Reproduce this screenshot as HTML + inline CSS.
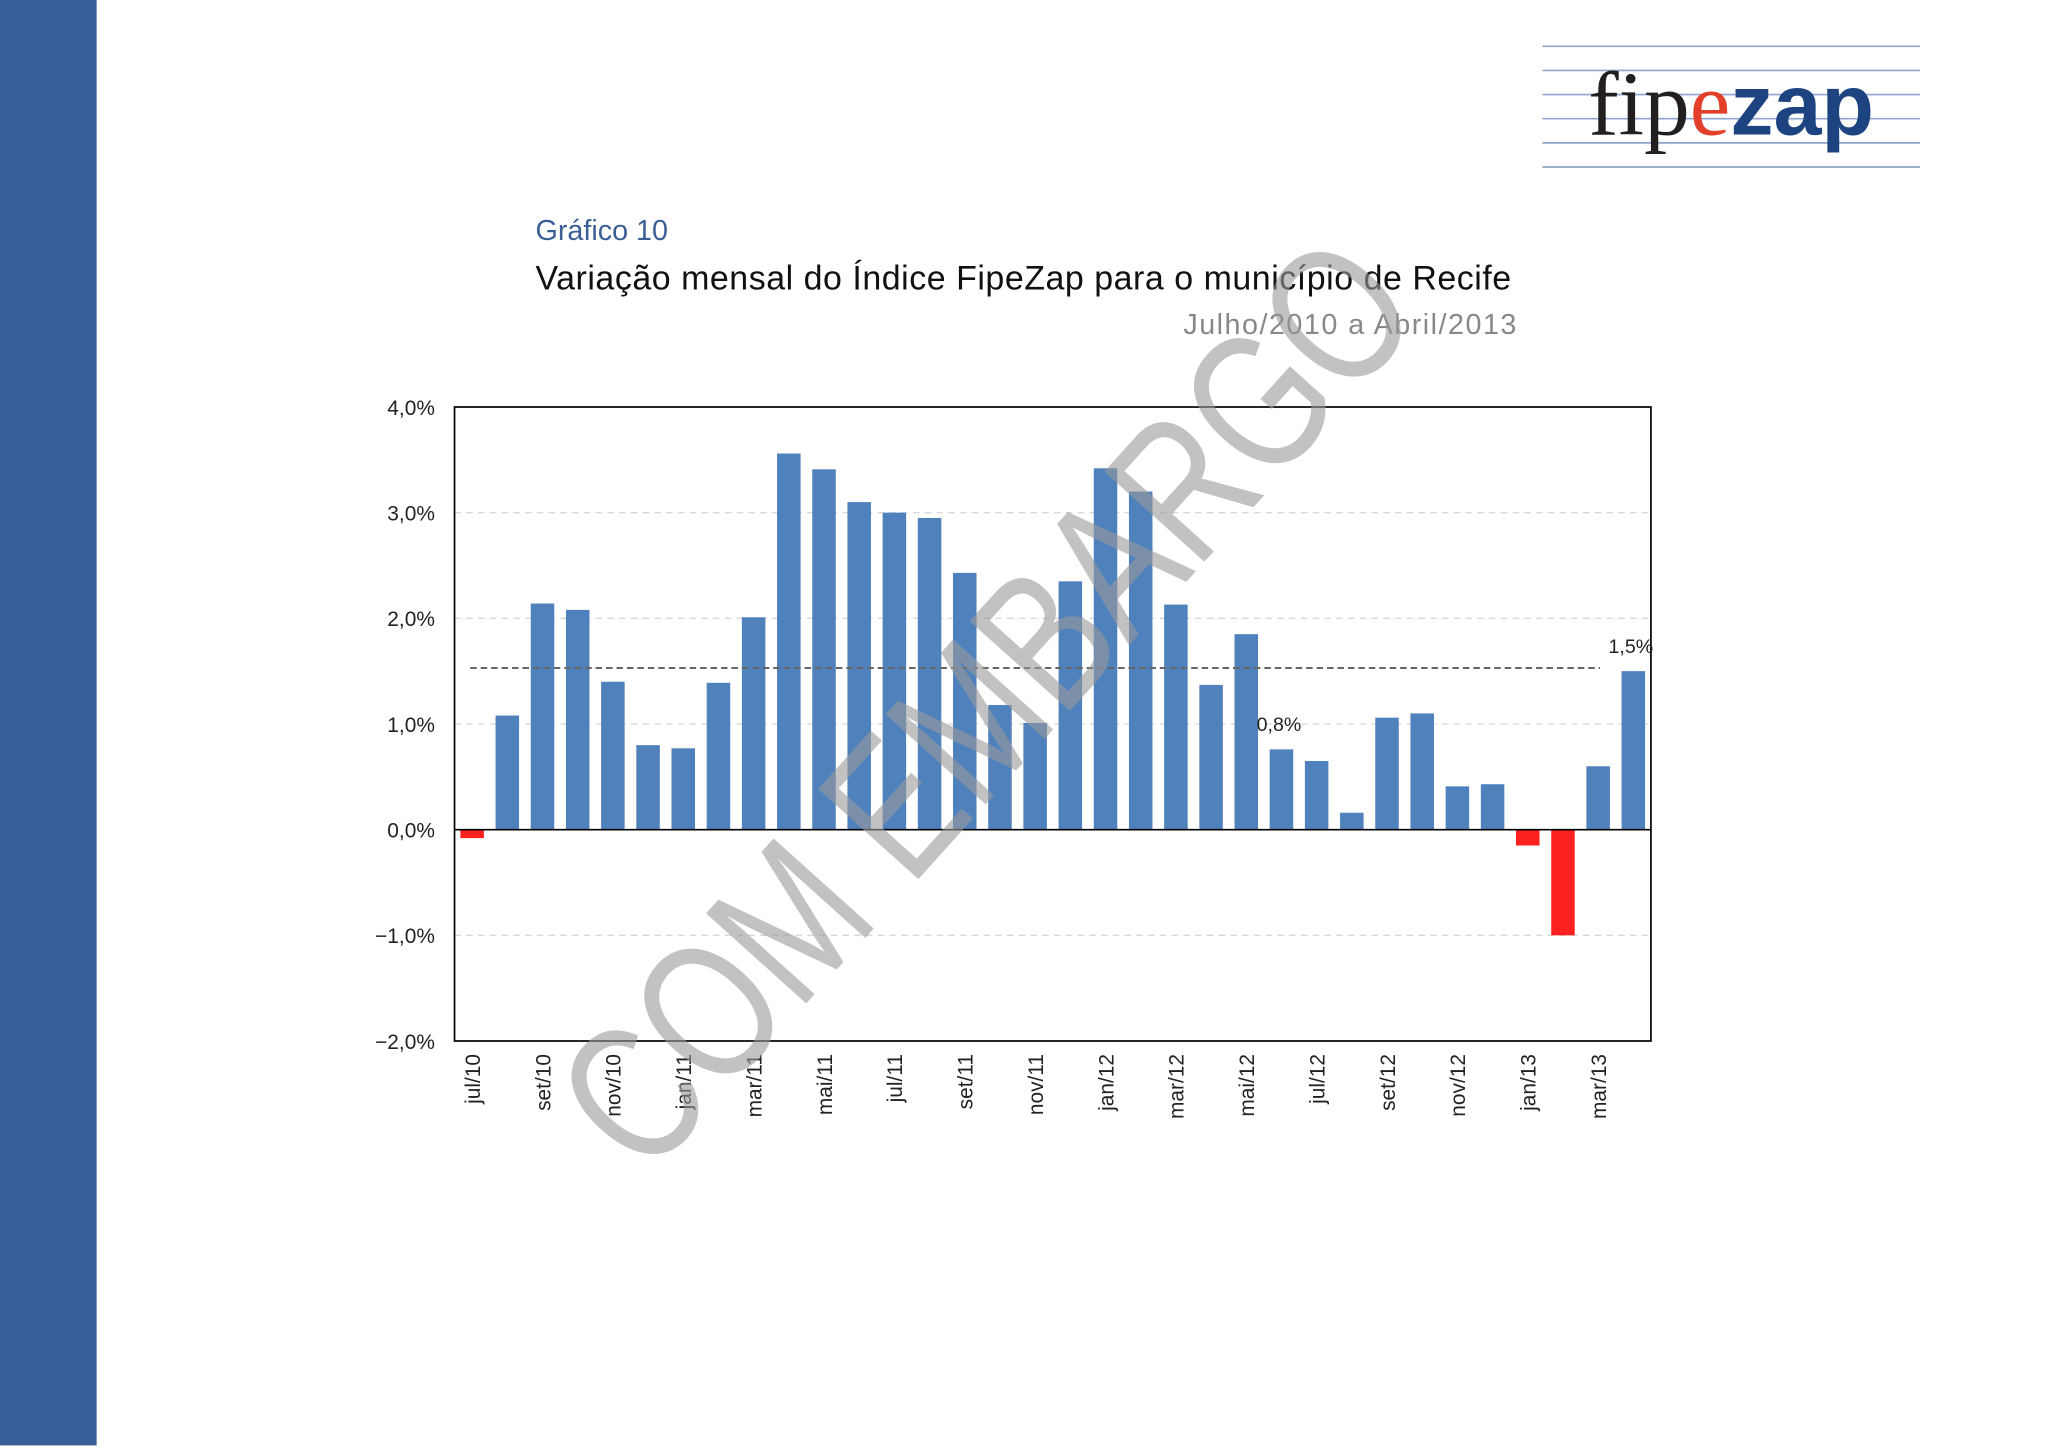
<!DOCTYPE html>
<html><head><meta charset="utf-8"><style>
html,body{margin:0;padding:0;background:#fff;}
svg{display:block;}
text{font-family:"Liberation Sans",sans-serif;}
</style></head><body>
<svg id="s" width="2048" height="1448" viewBox="0 0 1568 1110" preserveAspectRatio="none">
<rect x="0" y="0" width="74" height="1108" fill="#366097"/>
<g>
<g stroke="#8fa4cc" stroke-width="1.3">
<line x1="1181" y1="35.5" x2="1470" y2="35.5"/><line x1="1181" y1="54" x2="1470" y2="54"/>
<line x1="1181" y1="72.5" x2="1470" y2="72.5"/><line x1="1181" y1="91" x2="1470" y2="91"/>
<line x1="1181" y1="109.5" x2="1470" y2="109.5"/><line x1="1181" y1="128" x2="1470" y2="128"/>
</g>
<text x="1216" y="103" font-size="70" fill="#231f20" style="font-family:'Liberation Serif',serif">fip<tspan fill="#e2402a">e</tspan><tspan fill="#1d4480" style="font-family:'Liberation Sans',sans-serif" font-weight="bold" font-size="66">zap</tspan></text>
</g>
<text x="410" y="184" font-size="22" fill="#3b5f95">Gráfico 10</text>
<text x="410" y="222" font-size="26" fill="#111" textLength="747">Variação mensal do Índice FipeZap para o município de Recife</text>
<text x="906" y="256" font-size="22" fill="#888" textLength="255">Julho/2010 a Abril/2013</text>
<g id="chart"></g>
<text x="0" y="0" font-size="150" fill="#9a9a9a" fill-opacity="0.6" transform="translate(495,905) rotate(-48) scale(0.77,1)">COM EMBARGO</text>
</svg>
<script>
const categories=["jul/10","ago/10","set/10","out/10","nov/10","dez/10","jan/11","fev/11","mar/11","abr/11","mai/11","jun/11","jul/11","ago/11","set/11","out/11","nov/11","dez/11","jan/12","fev/12","mar/12","abr/12","mai/12","jun/12","jul/12","ago/12","set/12","out/12","nov/12","dez/12","jan/13","fev/13","mar/13","abr/13"];
const values=[-0.08,1.08,2.14,2.08,1.40,0.80,0.77,1.39,2.01,3.56,3.41,3.10,3.00,2.95,2.43,1.18,1.01,2.35,3.42,3.20,2.13,1.37,1.85,0.76,0.65,0.16,1.06,1.10,0.41,0.43,-0.15,-1.00,0.60,1.50];
const average=[1.53];
const yTicks=[4,3,2,1,0,-1,-2];
const yTickLabels=["4,0%","3,0%","2,0%","1,0%","0,0%","−1,0%","−2,0%"];
const annotations=[{i:23,text:"0,8%"},{i:33,text:"1,5%"}];
const NS="http://www.w3.org/2000/svg";
const g=document.getElementById('chart');
const L=348,R=1264,T=312,B=798,yMin=-2,yMax=4;
const y=v=>B-(v-yMin)/(yMax-yMin)*(B-T);
const slot=(R-L)/categories.length;
const x=i=>L+slot*(i+0.5);
function mk(t,a){const e=document.createElementNS(NS,t);for(const k in a)e.setAttribute(k,a[k]);g.appendChild(e);return e;}
yTicks.forEach((v,k)=>{
 if(v!==yMax&&v!==yMin&&v!==0){const l=mk('line',{x1:L,x2:R,y1:y(v),y2:y(v),stroke:'#d8d8d8','stroke-dasharray':'5,4'});
 
 }
 const t=mk('text',{x:333,y:y(v)+6,'font-size':16,'text-anchor':'end',fill:'#222'});t.textContent=yTickLabels[k];
 
 
});
values.forEach((v,i)=>{
 const r=mk('rect',{x:x(i)-9,width:18,y:Math.min(y(v),y(0)),height:Math.abs(y(v)-y(0)),fill:v<0?'#ff2020':'#4f81bd'});
 
 
 if(i%2===0){const t=mk('text',{'font-size':16,fill:'#222','text-anchor':'end',transform:`translate(${x(i)+6},808) rotate(-90)`});t.textContent=categories[i];
 
 }
});
const av=mk('line',{x1:360,x2:1225,y1:y(average[0]),y2:y(average[0]),stroke:'#666','stroke-width':1.6,'stroke-dasharray':'5,3'});


const z=mk('line',{x1:L,x2:R,y1:y(0),y2:y(0),stroke:'#000','stroke-width':1.3});


const f=mk('rect',{x:L,y:T,width:R-L,height:B-T,fill:'none',stroke:'#000','stroke-width':1.3});


annotations.forEach(a=>{const t=mk('text',{x:x(a.i)-19,y:y(values[a.i])-14,'font-size':15,fill:'#222'});t.textContent=a.text;
 
 });
</script>
</body></html>
